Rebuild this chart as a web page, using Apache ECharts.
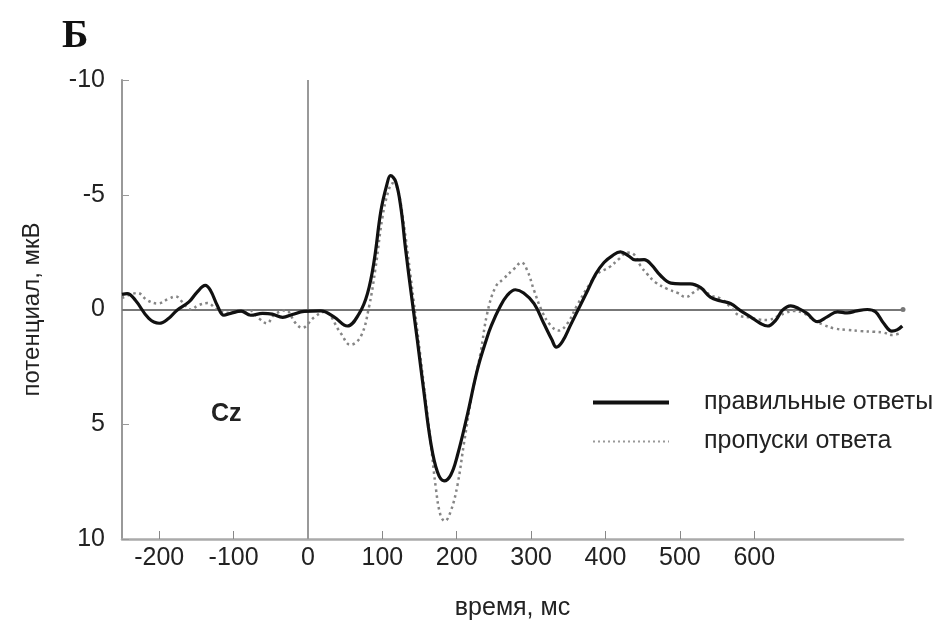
<!DOCTYPE html>
<html style="height: 100%">
<head>
  <meta charset="utf-8">
  <script src="https://cdn.jsdelivr.net/npm/echarts@6/dist/echarts.min.js"></script>
</head>
<body style="height: 100%; margin: 0; background: #fff">
<div id="erp" style="width: 944px; height: 627px"></div>
<script type="text/javascript">
// время (мс) и потенциал (мкВ)
var correctT = [-250, -243, -232, -214, -200, -187, -176, -160, -149, -138, -131, -122, -113, -104, -90, -77, -61, -48, -34, -21, -5,
  17, 35, 53, 69, 80, 89, 98, 106, 111, 118, 125, 131, 140, 147, 156, 165, 174, 183, 192, 201, 214, 228, 241, 246, 257,
  268, 279, 290, 304, 317, 328, 334, 342, 353, 364, 376, 387, 398, 409, 420, 431, 440, 452, 461, 474, 488, 501, 514, 528,
  541, 555, 568, 582, 595, 608, 618, 629, 638, 649, 660, 671, 685, 698, 712, 725, 738, 752, 763, 774, 785, 792, 799];
var correctV = [-0.66, -0.69, -0.4, 0.39, 0.6, 0.38, 0.03, -0.33, -0.76, -1.05, -0.83, -0.19, 0.25, 0.17, 0.07, 0.25, 0.17, 0.2, 0.34, 0.22, 0.08,
  0.06, 0.32, 0.72, 0.17, -0.69, -2.12, -4.28, -5.43, -5.83, -5.57, -4.42, -2.7, -0.4, 1.32, 3.62, 5.78, 7.07, 7.47, 7.21, 6.35, 4.63, 2.6, 1.2, 0.75, -0.04,
  -0.62, -0.86, -0.72, -0.26, 0.6, 1.32, 1.64, 1.4, 0.68, -0.04, -0.83, -1.55, -2.05, -2.34, -2.51, -2.34, -2.16, -2.17, -1.98, -1.48, -1.15, -1.12, -1.12, -0.95,
  -0.54, -0.37, -0.26, 0.06, 0.32, 0.6, 0.72, 0.46, 0.03, -0.16, -0.04, 0.17, 0.53, 0.32, 0.1, 0.15, 0.06, 0, 0.1, 0.6, 0.94, 0.89, 0.72];

var missT = [-250, -229, -216, -202, -187, -178, -169, -158, -147, -135, -122, -106, -79, -66, -55, -46, -30, -17, -8, 8,
  22, 44, 57, 71, 82, 91, 100, 108, 114, 120, 127, 142, 156, 165, 172, 178, 184, 192, 201, 210, 221, 232, 241, 252, 263,
  277, 287, 295, 304, 315, 326, 337, 349, 362, 376, 389, 405, 418, 429, 438, 447, 456, 467, 483, 497, 508, 519, 528, 541,
  555, 568, 579, 593, 606, 618, 632, 642, 653, 667, 680, 694, 707, 725, 743, 761, 774, 785, 797];
var missV = [-0.5, -0.72, -0.4, -0.26, -0.47, -0.57, -0.33, 0, -0.19, -0.28, 0, 0.15, 0.03, 0.39, 0.6, 0.25, 0.03, 0.58, 0.8, 0.35,
  0.1, 1.03, 1.54, 1.18, -0.1, -1.84, -3.99, -5.14, -5.5, -5.3, -4.14, -0.4, 3.34, 5.78, 7.79, 8.94, 9.22, 8.79, 7.65, 5.78, 3.62, 1.9, 0.17, -0.97, -1.34,
  -1.77, -2.05, -1.69, -0.83, 0.1, 0.68, 0.92, 0.6, -0.19, -0.97, -1.55, -1.84, -2.2, -2.48, -2.41, -1.91, -1.55, -1.19, -0.9, -0.72, -0.54, -0.76, -0.92, -0.62,
  -0.47, -0.11, 0.25, 0.34, 0.43, 0.46, 0.29, 0.15, 0.06, 0.17, 0.46, 0.68, 0.82, 0.89, 0.94, 0.97, 1.01, 1.11, 1.03];

var xTicks = [-200, -100, 0, 100, 200, 300, 400, 500, 600];
var seriesNames = ['правильные ответы', 'пропуски ответа'];

function pairs(t, v) {
  var out = [];
  for (var i = 0; i < t.length; i++) out.push([t[i], v[i]]);
  return out;
}

var font = 'Liberation Sans, Arial, sans-serif';
var myChart = echarts.init(document.getElementById('erp'));
var option = {
  animation: false,
  title: [
    { text: 'Б', left: 57, top: 12, textStyle: { fontFamily: 'Liberation Serif, Times New Roman, serif', fontWeight: 'bold', fontSize: 40, color: '#111' } },
    { text: 'Cz', left: 206, top: 397, textStyle: { fontFamily: font, fontWeight: 'bold', fontSize: 25, color: '#222' } }
  ],
  legend: {
    orient: 'vertical',
    left: 586,
    top: 385,
    itemWidth: 76,
    itemHeight: 14,
    itemGap: 14,
    itemStyle: { opacity: 0 },
    data: [
      { name: seriesNames[0], lineStyle: { width: 4, color: '#111' } },
      { name: seriesNames[1], lineStyle: { width: 2, color: '#999', type: [2, 3] } }
    ],
    textStyle: { fontFamily: font, fontSize: 25, color: '#222', padding: [0, 0, 0, 30] }
  },
  grid: { left: 122, right: 41, top: 80, bottom: 88, outerBoundsMode: 'none' },
  xAxis: {
    type: 'value',
    min: -250,
    max: 800,
    name: 'время, мс',
    nameLocation: 'middle',
    nameGap: 57,
    nameTextStyle: { fontFamily: font, fontSize: 25, color: '#222' },
    axisLine: { onZero: false, lineStyle: { color: '#aaa', width: 2.5 } },
    axisTick: { inside: true, length: 8, customValues: xTicks, lineStyle: { color: '#888' } },
    axisLabel: { customValues: xTicks, margin: 7, fontFamily: font, fontSize: 25, color: '#222' },
    splitLine: { show: false }
  },
  yAxis: {
    type: 'value',
    inverse: true,
    min: -10,
    max: 10,
    interval: 5,
    name: 'потенциал, мкВ',
    nameLocation: 'middle',
    nameGap: 78,
    nameTextStyle: { fontFamily: font, fontSize: 24, color: '#222' },
    axisLine: { show: true, onZero: false, lineStyle: { color: '#999', width: 2 } },
    axisTick: { show: true, inside: true, length: 7, lineStyle: { color: '#999' } },
    axisLabel: { margin: 17, fontFamily: font, fontSize: 25, color: '#222' },
    splitLine: { show: false }
  },
  series: [
    {
      name: seriesNames[1],
      type: 'line',
      smooth: 0.4,
      symbol: 'none',
      data: pairs(missT, missV),
      lineStyle: { color: '#858585', width: 2.5, type: [2.5, 3.5] },
      itemStyle: { color: '#858585' },
      z: 3,
      markLine: {
        silent: true,
        z: 1,
        symbol: 'none',
        label: { show: false },
        lineStyle: { color: '#999', width: 2, type: 'solid' },
        data: [{ xAxis: 0 }]
      }
    },
    {
      name: seriesNames[0],
      type: 'line',
      smooth: 0.4,
      symbol: 'none',
      data: pairs(correctT, correctV),
      lineStyle: { color: '#111', width: 3.2 },
      itemStyle: { color: '#111' },
      z: 4,
      markLine: {
        silent: true,
        z: 1,
        symbol: ['none', 'circle'],
        symbolSize: 5,
        label: { show: false },
        lineStyle: { color: '#777', width: 2, type: 'solid' },
        itemStyle: { color: '#333' },
        data: [{ yAxis: 0 }]
      }
    }
  ]
};
myChart.setOption(option);
</script>
</body>
</html>
